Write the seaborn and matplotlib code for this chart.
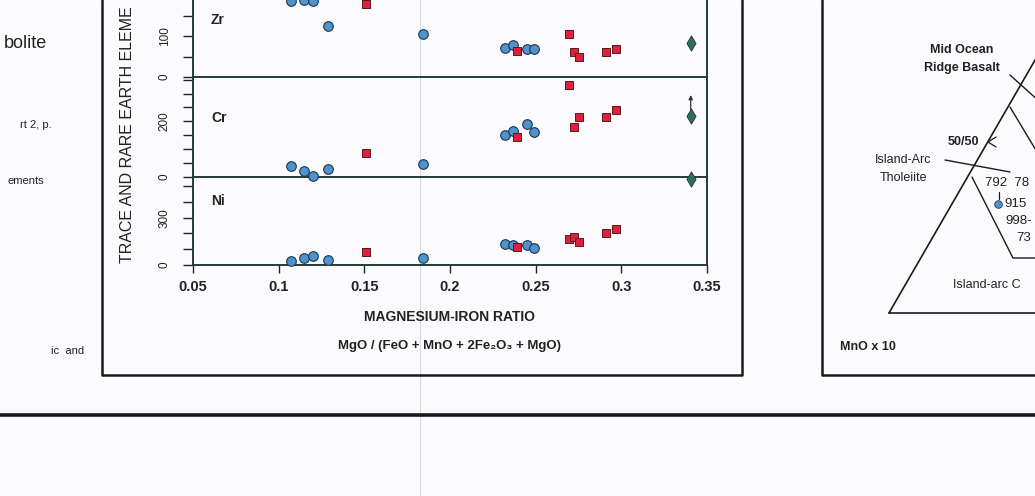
import numpy as np
import pandas as pd
import matplotlib.pyplot as plt
import seaborn as sns

# Trace elements vs magnesium-iron ratio (scanned page, middle figure)
sns.set_theme(style="white")
plt.rcParams['font.family'] = ['Liberation Sans', 'DejaVu Sans']

# circles: amphibolite samples, squares: second group, diamond: reference value
circ_x = [0.107, 0.115, 0.120, 0.129, 0.184, 0.232, 0.237, 0.245, 0.249]
sq_x = [0.151, 0.239, 0.2695, 0.2724, 0.275, 0.291, 0.2968]
dia_x = [0.3405]

zr_circ = [188, 190, 187, 126, 105, 71, 79, 68, 68]
zr_sq = [179, 65, 105, 62, 50, 62, 70]
zr_dia = [83]

cr_circ = [40, 22, 4, 28, 46, 152, 164, 192, 162]
cr_sq = [84, 144, 332, 180, 215, 215, 242]
cr_dia = [219]
cr_dia_arrow = 305

ni_circ = [27, 43, 57, 32, 43, 132, 127, 127, 106]
ni_sq = [81, 113, 164, 176, 148, 202, 227]
ni_dia = [548]

elements = ['Zr', 'Cr', 'Ni']
ylims = [(0, 190), (0, 360), (0, 560)]
yticks = [[0, 50, 100, 150], [0, 50, 100, 150, 200, 250, 300, 350], [0, 100, 200, 300, 400, 500]]
ylabels_shown = [[0, 100], [0, 200], [0, 300]]
xticks = [0.05, 0.1, 0.15, 0.2, 0.25, 0.3, 0.35]
xticklabels = ['0.05', '0.1', '0.15', '0.2', '0.25', '0.3', '0.35']

values = {'Zr': (zr_circ, zr_sq, zr_dia), 'Cr': (cr_circ, cr_sq, cr_dia), 'Ni': (ni_circ, ni_sq, ni_dia)}

W, H = 1035, 496
fig = plt.figure(figsize=(W / 100, H / 100), dpi=100, facecolor='#fbfbfd')

# page decorations in pixel coordinates
page = fig.add_axes([0, 0, 1, 1], zorder=0)
page.set_xlim(0, W)
page.set_ylim(H, 0)
page.axis('off')
ink = '#1c1a1a'
page.plot([420, 420], [0, H], color='#d9dbe0', lw=0.8)
page.plot([102, 102, 742, 742], [0, 375, 375, 0], color=ink, lw=1.8)
page.plot([822, 822, 1040], [0, 375, 375], color=ink, lw=1.8)
page.plot([0, W], [415, 415], color=ink, lw=2.6)

# left column text fragments
for txt, xr, y, fs in [('bolite', 47, 43, 13), ('rt 2, p.', 52, 125, 8),
                       ('ements', 44, 181, 8), ('ic  and', 84, 351, 8)]:
    page.text(xr, y, txt, ha='right', va='center', fontsize=fs, color='#222222')

# right figure fragment (ternary diagram)
page.plot([889, 1040], [313, 313], color=ink, lw=1.2)
page.plot([889, 1040], [313, 313 - 151 * 1.732], color=ink, lw=1.2)
page.plot([1010, 1040], [75, 102], color=ink, lw=1.0)
page.plot([1010, 1040], [107, 157], color=ink, lw=1.0)
page.plot([972, 1013, 1040], [177, 258, 258], color=ink, lw=1.0)
page.plot([945, 1010], [160, 172], color=ink, lw=1.0)
page.plot([996, 988, 996], [137, 142, 147], color=ink, lw=0.9)
page.plot([999, 999], [192, 199], color=ink, lw=0.9)
page.scatter([998], [204], s=30, color='#4f93cc', edgecolor='#1f3550', linewidth=0.6, zorder=3)
page.text(962, 50, 'Mid Ocean', ha='center', va='center', fontsize=9, fontweight='bold', color='#222222')
page.text(962, 68, 'Ridge Basalt', ha='center', va='center', fontsize=9, fontweight='bold', color='#222222')
page.text(963, 142, '50/50', ha='center', va='center', fontsize=9, fontweight='bold', color='#222222')
page.text(903, 160, 'Island-Arc', ha='center', va='center', fontsize=9, color='#222222')
page.text(903, 178, 'Tholeiite', ha='center', va='center', fontsize=9, color='#222222')
for txt, xl, y in [('792  78', 985, 183), ('915', 1004, 204), ('998-', 1005, 221), ('73', 1016, 238)]:
    page.text(xl, y, txt, ha='left', va='center', fontsize=9.5, color='#222222')
page.text(953, 285, 'Island-arc C', ha='left', va='center', fontsize=9, color='#222222')
page.text(840, 347, 'MnO x 10', ha='left', va='center', fontsize=9, fontweight='bold', color='#222222')

# stacked panels sharing the x axis
tops = [0, 77, 176.7]
bottoms = [77, 176.7, 265]
axes = []
for el, top, bot in zip(elements, tops, bottoms):
    ax = fig.add_axes([193 / W, 1 - bot / H, 514 / W, (bot - top) / H], zorder=2)
    ax.set_facecolor('none')
    axes.append(ax)

label_pos = [0.74, 0.59, 0.73]
line_col = '#243b38'
for i, (ax, el) in enumerate(zip(axes, elements)):
    circ, sq, dia = values[el]
    df_c = pd.DataFrame({'ratio': circ_x, 'ppm': circ})
    df_s = pd.DataFrame({'ratio': sq_x, 'ppm': sq})
    df_d = pd.DataFrame({'ratio': dia_x, 'ppm': dia})
    sns.scatterplot(data=df_c, x='ratio', y='ppm', ax=ax, marker='o', s=48,
                    color='#4f93cc', edgecolor='#1f3550', linewidth=0.8, legend=False, clip_on=False, zorder=3)
    sns.scatterplot(data=df_s, x='ratio', y='ppm', ax=ax, marker='s', s=36,
                    color='#e0203a', edgecolor='#5a1a20', linewidth=0.7, legend=False, clip_on=False, zorder=4)
    sns.scatterplot(data=df_d, x='ratio', y='ppm', ax=ax, marker='d', s=60,
                    color='#2d6e5a', edgecolor='#1f3f35', linewidth=0.6, legend=False, clip_on=False, zorder=4)
    if el == 'Cr':
        ax.annotate('', xy=(dia_x[0], cr_dia_arrow), xytext=(dia_x[0], cr_dia[0] + 12),
                    arrowprops=dict(arrowstyle='-|>', lw=0.9, color='#333333', mutation_scale=6))

    ax.set_xlim(0.05, 0.35)
    ax.set_ylim(*ylims[i])
    ax.set_yticks(yticks[i])
    ax.set_yticklabels([str(t) if t in ylabels_shown[i] else '' for t in yticks[i]],
                       rotation=90, va='center')
    ax.tick_params(axis='y', direction='out', length=7, width=1, pad=9, labelsize=8.5,
                   color='#222222', labelcolor='#222222', left=True)
    ax.spines['top'].set_visible(False)
    for side in ['left', 'right', 'bottom']:
        ax.spines[side].set_color(line_col)
        ax.spines[side].set_linewidth(1.4)
    ax.set_xlabel('')
    ax.set_ylabel('')
    ax.text(0.035, label_pos[i], el, transform=ax.transAxes,
            fontsize=10, fontweight='bold', color='#222222', va='center')
    if i < 2:
        ax.tick_params(axis='x', bottom=False, labelbottom=False)
    else:
        ax.set_xticks(xticks)
        ax.set_xticklabels(xticklabels)
        ax.tick_params(axis='x', direction='out', length=6, width=1, pad=5, labelsize=10.5,
                       color='#222222', labelcolor='#222222', bottom=True)
        for lab in ax.get_xticklabels():
            lab.set_fontweight('bold')

fig.text(450 / W, 1 - 317 / H, 'MAGNESIUM-IRON RATIO', ha='center', va='center',
         fontsize=10, fontweight='bold', color='#222222')
fig.text(450 / W, 1 - 346 / H, 'MgO / (FeO + MnO + 2Fe₂O₃ + MgO)', ha='center', va='center',
         fontsize=9.5, fontweight='bold', color='#222222')
fig.text(128 / W, 1 - 263 / H, 'TRACE AND RARE EARTH ELEME', rotation=90,
         ha='center', va='bottom', fontsize=11.5, color='#222222')

fig.savefig('out.png', dpi=100, facecolor=fig.get_facecolor())
